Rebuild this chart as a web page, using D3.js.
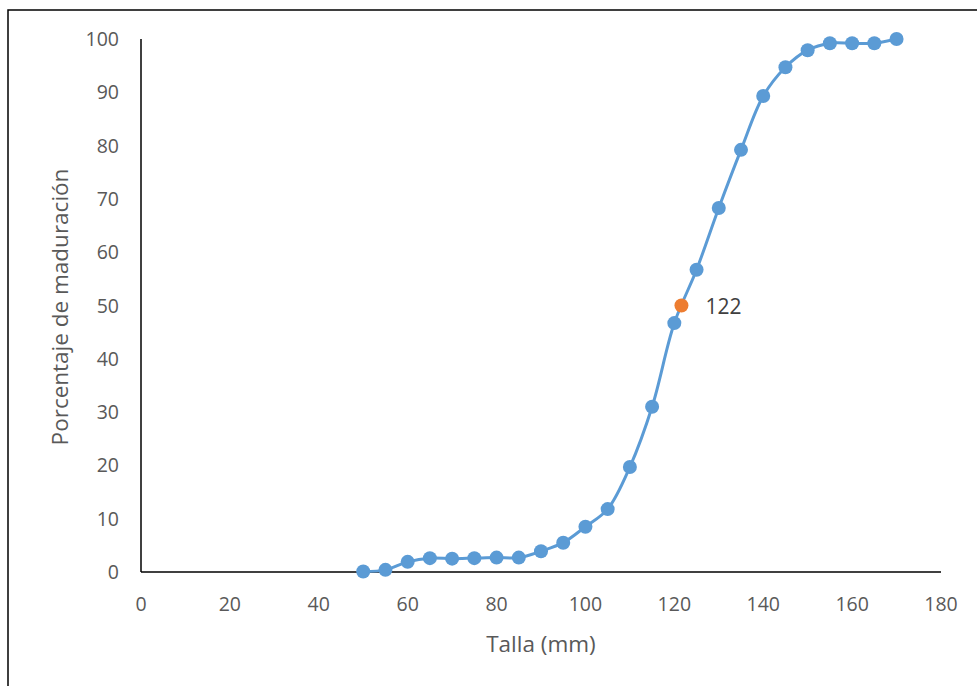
<!DOCTYPE html>
<html><head><meta charset="utf-8">
<script src="https://cdn.jsdelivr.net/npm/d3@7"></script>
<style>body{margin:0;background:#fff;} svg{display:block;} text{font-family:"Open Sans",Calibri,sans-serif;fill:#595959;}</style>
</head><body>
<svg id="c" width="977" height="686"></svg>
<script>
const tallas = [50,55,60,65,70,75,80,85,90,95,100,105,110,115,120,125,130,135,140,145,150,155,160,165,170];
const porcentajes = [0.1,0.4,1.9,2.6,2.5,2.6,2.7,2.7,3.9,5.5,8.5,11.8,19.7,31,46.7,56.7,68.3,79.2,89.3,94.7,97.9,99.2,99.2,99.2,100];
const l50 = [121.6];
const l50y = [50];
const l50Label = ["122"];
const xTicks = [0,20,40,60,80,100,120,140,160,180];
const yTicks = [0,10,20,30,40,50,60,70,80,90,100];

const svg = d3.select("#c");
svg.append("rect").attr("x",8).attr("y",10).attr("width",1000).attr("height",700)
  .attr("fill","none").attr("stroke","#000").attr("stroke-width",1.5);

const x = d3.scaleLinear().domain([0,180]).range([141,941]);
const y = d3.scaleLinear().domain([0,100]).range([572,39]);

svg.append("line").attr("x1",x(0)).attr("x2",x(180)).attr("y1",y(0)).attr("y2",y(0)).attr("stroke","#000").attr("stroke-width",1.5);
svg.append("line").attr("x1",x(0)).attr("x2",x(0)).attr("y1",y(0)).attr("y2",y(100)).attr("stroke","#000").attr("stroke-width",1.5);

svg.selectAll(".xt").data(xTicks).enter().append("text")
  .attr("x",d=>x(d)).attr("y",611).attr("text-anchor","middle").attr("font-size",19.5).text(d=>d);
svg.selectAll(".yt").data(yTicks).enter().append("text")
  .attr("x",119).attr("y",d=>y(d)+7).attr("text-anchor","end").attr("font-size",19.5).text(d=>d);

svg.append("text").attr("x",541).attr("y",652).attr("text-anchor","middle").attr("font-size",22.5).text("Talla (mm)");
svg.append("text").attr("transform","translate(68,307) rotate(-90)").attr("text-anchor","middle").attr("font-size",22.5).text("Porcentaje de maduración");

const data = tallas.map((t,i)=>[t,porcentajes[i]]);
const line = d3.line().x(d=>x(d[0])).y(d=>y(d[1])).curve(d3.curveCatmullRom.alpha(0.5));
svg.append("path").datum(data).attr("d",line).attr("fill","none").attr("stroke","#5B9BD5").attr("stroke-width",3);
svg.selectAll(".pt").data(data).enter().append("circle")
  .attr("cx",d=>x(d[0])).attr("cy",d=>y(d[1])).attr("r",7).attr("fill","#5B9BD5");

svg.selectAll(".l50").data(l50).enter().append("circle")
  .attr("cx",d=>x(d)).attr("cy",(d,i)=>y(l50y[i])).attr("r",7).attr("fill","#ED7D31");
svg.selectAll(".l50t").data(l50).enter().append("text")
  .attr("x",d=>x(d)+24).attr("y",(d,i)=>y(l50y[i])+8).attr("font-size",21).style("fill","#404040").text((d,i)=>l50Label[i]);
</script>
</body></html>
